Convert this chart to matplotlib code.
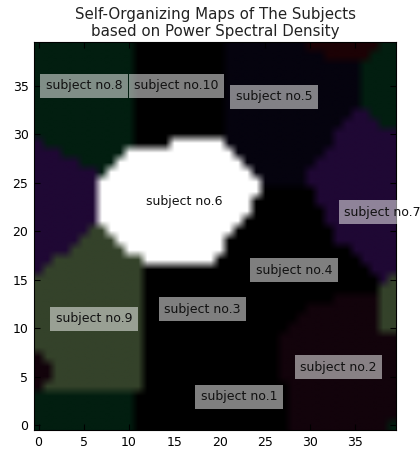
import matplotlib

matplotlib.use("Agg")
import numpy as np
from matplotlib import pyplot as plt
from matplotlib.colors import to_rgb

# cluster colours of the SOM nodes
PALETTE = {
    "G": "#021e10",  # dark green
    "K": "#000000",  # black
    "N": "#05030e",  # navy
    "R": "#1c0205",  # dark red
    "P": "#1f0834",  # purple
    "W": "#ffffff",  # white
    "O": "#34422a",  # olive
    "M": "#12030b",  # maroon
}

# 40x40 map, run-length per row, from y=39 (top) down to y=0
MAP_ROWS = [
    "G11 K10 N9 R8 G2",
    "G11 K10 N11 R5 G3",
    "G11 K10 N15 G4",
    "G11 K10 N15 G4",
    "G11 K10 N15 G4",
    "G11 K10 N15 G4",
    "G11 K10 N15 G4",
    "G11 K10 N14 P2 G3",
    "G11 K10 N13 P4 G2",
    "G11 K10 N12 P7",
    "P1 G10 K4 W6 N12 P7",
    "P3 G7 W12 N10 P8",
    "P5 G4 W14 N8 P9",
    "P7 G1 W16 N6 P10",
    "P7 W18 N5 P10",
    "P7 W18 K6 P9",
    "P7 W17 K7 P9",
    "P7 W17 K8 P8",
    "P7 W16 K9 P8",
    "P6 O2 W14 K11 P7",
    "P5 O4 W12 K12 P7",
    "P4 O6 W11 K14 P5",
    "P2 O10 W8 K16 P4",
    "P1 O11 K25 P3",
    "O12 K26 P1 O1",
    "O12 K26 O2",
    "O12 K21 M5 O2",
    "O12 K18 M8 O2",
    "O12 K17 M9 O2",
    "O12 K16 M10 O2",
    "O12 K15 M13",
    "O12 K15 M13",
    "M1 O11 K15 M13",
    "M2 O10 K15 M13",
    "M2 O10 K15 M13",
    "M1 O11 K16 M12",
    "G11 K17 M12",
    "G11 K17 M12",
    "G11 K17 M12",
    "G11 K17 M11 G1",
]

SUBJECTS = ["subject no.1", "subject no.2", "subject no.3", "subject no.4",
            "subject no.5", "subject no.6", "subject no.7", "subject no.8",
            "subject no.9", "subject no.10"]
LABEL_X = [17.9, 28.9, 13.9, 24.0, 21.8, 11.9, 33.8, 0.8, 1.9, 10.6]
LABEL_Y = [2.6, 5.6, 11.6, 15.6, 33.5, 22.7, 21.6, 34.6, 10.6, 34.6]


def decode_row(row: str) -> list[str]:
    cells: list[str] = []
    for run in row.split():
        cells.extend([run[0]] * int(run[1:]))
    assert len(cells) == 40, row
    return cells


image = np.array([[to_rgb(PALETTE[c]) for c in decode_row(r)] for r in MAP_ROWS])

fig = plt.figure(figsize=(4.2, 4.5), dpi=100, facecolor="white")
ax = fig.add_axes([0.081, 0.044, 0.862, 0.863])
ax.imshow(image, origin="upper", extent=(-0.5, 39.5, -0.5, 39.5),
          interpolation="bilinear", aspect="auto")
ax.set_xlim(-0.5, 39.5)
ax.set_ylim(-0.5, 39.5)
ax.set_xticks(range(0, 40, 5))
ax.set_yticks(range(0, 40, 5))
ax.tick_params(direction="in", top=True, right=True, length=4,
               labelsize=9, pad=4, color="black")
for spine in ax.spines.values():
    spine.set_linewidth(0.8)

for name, x, y in zip(SUBJECTS, LABEL_X, LABEL_Y):
    ax.text(x, y, name, fontsize=9, color="#111111", clip_on=False,
            bbox=dict(facecolor="white", alpha=0.5, edgecolor="none"))

ax.set_title("Self-Organizing Maps of The Subjects\nbased on Power Spectral Density",
             fontsize=10.8, pad=4, color="#222222")

fig.savefig("out.png", dpi=100, facecolor="white")
